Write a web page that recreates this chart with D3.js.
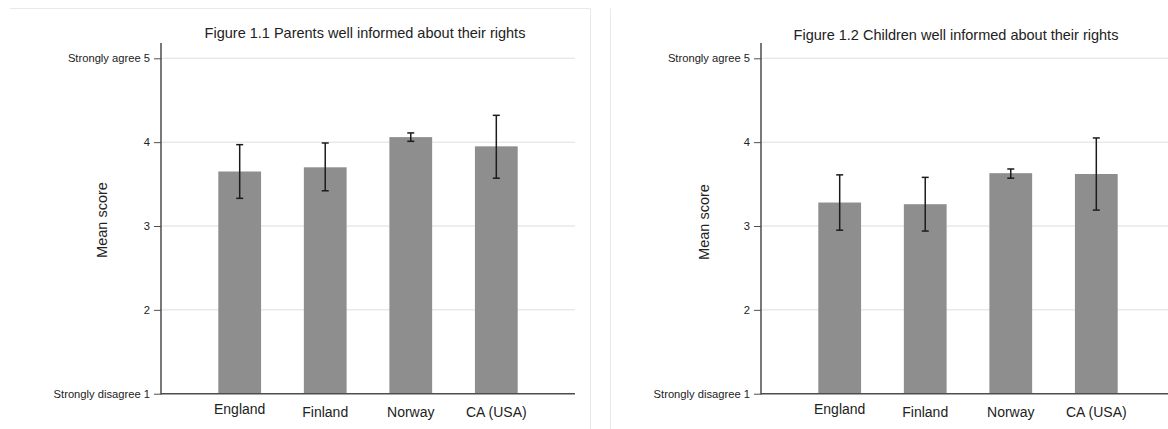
<!DOCTYPE html>
<html>
<head>
<meta charset="utf-8">
<script src="https://cdn.jsdelivr.net/npm/d3@7"></script>
<style>
  html, body { margin: 0; padding: 0; background: #fff; }
  svg { display: block; font-family: "Liberation Sans", Arial, sans-serif; }
</style>
</head>
<body>
<svg id="chart" width="1168" height="429"></svg>
<script>
// ---- data ----
const categories = ["England", "Finland", "Norway", "CA (USA)"];

const parentsTitle = "Figure 1.1 Parents well informed about their rights";
const parentsMean  = [3.65, 3.70, 4.06, 3.95];
const parentsLow   = [3.33, 3.42, 4.01, 3.57];
const parentsHigh  = [3.97, 3.99, 4.11, 4.32];

const childrenTitle = "Figure 1.2 Children well informed about their rights";
const childrenMean  = [3.28, 3.26, 3.63, 3.62];
const childrenLow   = [2.95, 2.94, 3.57, 3.19];
const childrenHigh  = [3.61, 3.58, 3.68, 4.05];

const yTickValues = [1, 2, 3, 4, 5];
const yTickLabels = ["Strongly disagree 1", "2", "3", "4", "Strongly agree 5"];
const yAxisTitle = "Mean score";

// ---- layout ----
const svg = d3.select("#chart");

// panel borders
svg.append("path")
  .attr("d", "M10,8.5 H590.5 V440")
  .attr("fill", "none").attr("stroke", "#e3eaea").attr("stroke-width", 1);
svg.append("path")
  .attr("d", "M610.5,440 V8.5")
  .attr("fill", "none").attr("stroke", "#e3eaea").attr("stroke-width", 1);

const panels = [
  { title: parentsTitle, mean: parentsMean, low: parentsLow, high: parentsHigh,
    left: 161, gridRight: 575, titleX: 365, titleY: 38, labelX: 102, labelY: 220 },
  { title: childrenTitle, mean: childrenMean, low: childrenLow, high: childrenHigh,
    left: 761, gridRight: 1168, titleX: 956, titleY: 39.5, labelX: 704, labelY: 222 }
];

const plotW = 414, yTop = 58.3, yBottom = 393.7, axisTop = 43;

panels.forEach(p => {
  const g = svg.append("g").attr("transform", `translate(${p.left},0)`);

  const x = d3.scaleBand().domain(categories).range([0, plotW])
    .paddingInner(0.5).paddingOuter(0.67);
  const y = d3.scaleLinear().domain([1, 5]).range([yBottom, yTop]);

  // gridlines
  g.selectAll(".grid").data(yTickValues.slice(1)).enter().append("line")
    .attr("x1", 0).attr("x2", p.gridRight - p.left)
    .attr("y1", d => y(d)).attr("y2", d => y(d))
    .attr("stroke", "#e9e9e9").attr("stroke-width", 1.5);

  // bars
  const data = categories.map((c, i) => ({ c, m: p.mean[i], lo: p.low[i], hi: p.high[i] }));
  g.selectAll(".bar").data(data).enter().append("rect")
    .attr("x", d => x(d.c)).attr("width", x.bandwidth())
    .attr("y", d => y(d.m)).attr("height", d => y(1) - y(d.m))
    .attr("fill", "#8e8e8e");

  // error bars
  const cap = 3.5;
  const eb = g.selectAll(".eb").data(data).enter().append("g")
    .attr("stroke", "#1c1c1c").attr("stroke-width", 1.5);
  eb.append("line")
    .attr("x1", d => x(d.c) + x.bandwidth() / 2).attr("x2", d => x(d.c) + x.bandwidth() / 2)
    .attr("y1", d => y(d.hi)).attr("y2", d => y(d.lo));
  eb.append("line")
    .attr("x1", d => x(d.c) + x.bandwidth() / 2 - cap).attr("x2", d => x(d.c) + x.bandwidth() / 2 + cap)
    .attr("y1", d => y(d.hi)).attr("y2", d => y(d.hi));
  eb.append("line")
    .attr("x1", d => x(d.c) + x.bandwidth() / 2 - cap).attr("x2", d => x(d.c) + x.bandwidth() / 2 + cap)
    .attr("y1", d => y(d.lo)).attr("y2", d => y(d.lo));

  // y axis
  const yAxis = d3.axisLeft(y).tickValues(yTickValues)
    .tickFormat((d, i) => yTickLabels[i]).tickSize(7).tickPadding(4);
  const ya = g.append("g").call(yAxis);
  ya.select(".domain").remove();
  ya.selectAll(".tick line").attr("stroke", "#4d4d4d").attr("stroke-width", 1);
  ya.selectAll(".tick text").attr("fill", "#222").style("font-size", "11.2px")
    .style("font-family", "'Liberation Sans', Arial, sans-serif");
  g.append("line").attr("x1", 0).attr("x2", 0).attr("y1", axisTop).attr("y2", yBottom + 0.75)
    .attr("stroke", "#4d4d4d").attr("stroke-width", 1.5);

  // x baseline
  g.append("line").attr("x1", 0).attr("x2", p.gridRight - p.left)
    .attr("y1", yBottom).attr("y2", yBottom)
    .attr("stroke", "#4d4d4d").attr("stroke-width", 1.5);

  // x labels
  g.selectAll(".xl").data(categories).enter().append("text")
    .attr("x", d => x(d) + x.bandwidth() / 2)
    .attr("y", (d, i) => i === 0 ? 414 : 416.5)
    .attr("text-anchor", "middle")
    .attr("fill", "#222").style("font-size", "14px")
    .text(d => d);

  // title
  svg.append("text").attr("x", p.titleX).attr("y", p.titleY)
    .attr("text-anchor", "middle").attr("fill", "#222")
    .style("font-size", "14.5px").text(p.title);

  // y axis title
  svg.append("text")
    .attr("transform", `translate(${p.labelX},${p.labelY}) rotate(-90)`)
    .attr("text-anchor", "middle").attr("dominant-baseline", "central")
    .attr("fill", "#222").style("font-size", "14.5px").text(yAxisTitle);
});
</script>
</body>
</html>
